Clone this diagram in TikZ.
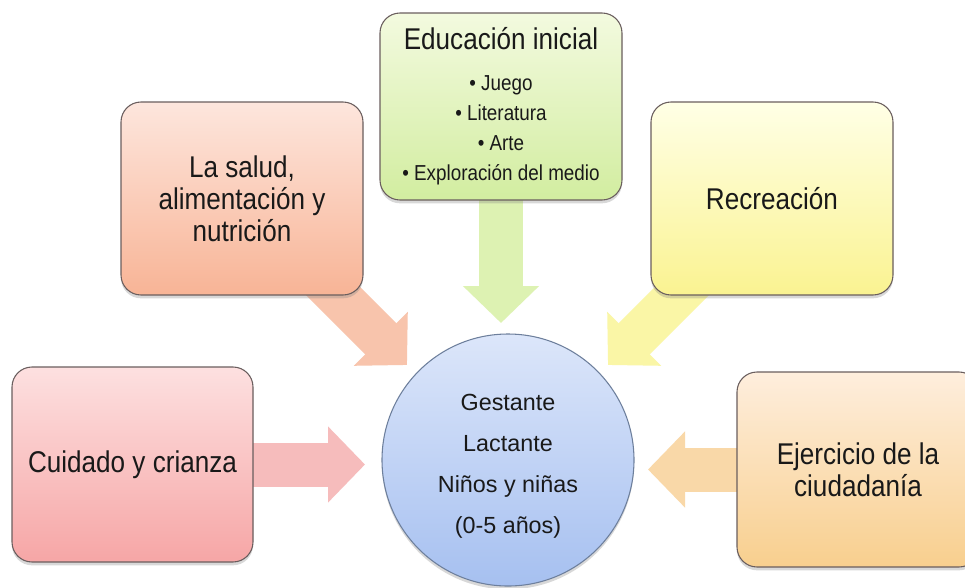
\documentclass[tikz,border=0pt]{standalone}
\usepackage{fontspec}
\setmainfont{Liberation Sans}[FakeStretch=0.87]
\newfontfamily\circfont{Liberation Sans}
\usetikzlibrary{arrows.meta,shadows,backgrounds}
\definecolor{cuidT}{HTML}{FDE0E0}
\definecolor{cuidB}{HTML}{F6A6A6}
\definecolor{salT}{HTML}{FDE6DD}
\definecolor{salB}{HTML}{F8B496}
\definecolor{eduT}{HTML}{F3FADF}
\definecolor{eduB}{HTML}{D2EDA0}
\definecolor{recT}{HTML}{FFFFE6}
\definecolor{recB}{HTML}{FAF391}
\definecolor{ejeT}{HTML}{FEEEDD}
\definecolor{ejeB}{HTML}{F8CF8E}
\definecolor{circT}{HTML}{DCE6FA}
\definecolor{circB}{HTML}{A6C0F0}
\definecolor{cuidA}{HTML}{F6BCBC}
\definecolor{salA}{HTML}{F8C4AC}
\definecolor{eduA}{HTML}{DDF2B2}
\definecolor{recA}{HTML}{FAF6A6}
\definecolor{ejeA}{HTML}{F9D8A8}
\definecolor{boxline}{HTML}{6A5E5E}
\definecolor{circline}{HTML}{6D7F9C}
\begin{document}
\begin{tikzpicture}[x=0.75pt,y=-0.75pt,
  box/.style={draw=boxline, line width=0.8pt, rounded corners=15pt,
    minimum width=181.5pt, minimum height=144.75pt, inner sep=2pt, outer sep=0pt,
    align=center, text=black!90, font=\fontsize{22.5}{24}\selectfont,
    drop shadow={shadow xshift=0pt, shadow yshift=-2.5pt, opacity=0.3}},
  blockarrow/.style={line width=33pt, -{Triangle[length=27.75pt,width=55.5pt]}},
]
\useasboundingbox (0,0) rectangle (965,587);

\node[box, top color=cuidT, bottom color=cuidB, minimum width=180.75pt, minimum height=146.25pt]
  (cuid) at (132.5,464.5) {Cuidado y crianza};
\node[box, top color=salT, bottom color=salB] (salud) at (242,198.5)
  {La salud,\\alimentación y\\nutrición};
\node[box, top color=eduT, bottom color=eduB, minimum height=140.25pt,
  font=\fontsize{16.25}{22.5}\selectfont] (edu) at (501,106.5)
  {{\fontsize{22.5}{22.5}\selectfont Educación inicial}\\[8pt]• Juego\\• Literatura\\• Arte\\• Exploración del medio};
\node[box, top color=recT, bottom color=recB] (recre) at (772,198.5) {Recreación};
\node[box, top color=ejeT, bottom color=ejeB, minimum height=146.25pt]
  (ejer) at (858,469.5) {Ejercicio de la\\ciudadanía};
\node[circle, draw=circline, line width=0.8pt, minimum size=189pt, inner sep=0pt, outer sep=0pt,
  top color=circT, bottom color=circB, align=center, text=black!90,
  font=\circfont\fontsize{17.5}{30.75}\selectfont,
  drop shadow={shadow xshift=0pt, shadow yshift=-2.5pt, opacity=0.3}]
  (pob) at (508,460) {\rule{0pt}{22pt}Gestante\\Lactante\\Niños y niñas\\(0-5 años)};

\coordinate (cuidtip) at (365,464.5);
\coordinate (salstart) at (318,276);
\coordinate (saltip) at (407,365);
\coordinate (edutip) at (501,323);
\coordinate (recstart) at (697,276);
\coordinate (rectip) at (608,365);
\coordinate (ejetip) at (648,469.5);

\begin{scope}[on background layer]
  \fill[white] (0,0) rectangle (965,587);
  \draw[blockarrow, draw=cuidA] (cuid.east) -- (cuidtip);
  \draw[blockarrow, draw=salA] (salstart) -- (saltip);
  \draw[blockarrow, draw=eduA] (edu.south) -- (edutip);
  \draw[blockarrow, draw=recA] (recstart) -- (rectip);
  \draw[blockarrow, draw=ejeA] (ejer.west) -- (ejetip);
\end{scope}
\end{tikzpicture}
\end{document}
